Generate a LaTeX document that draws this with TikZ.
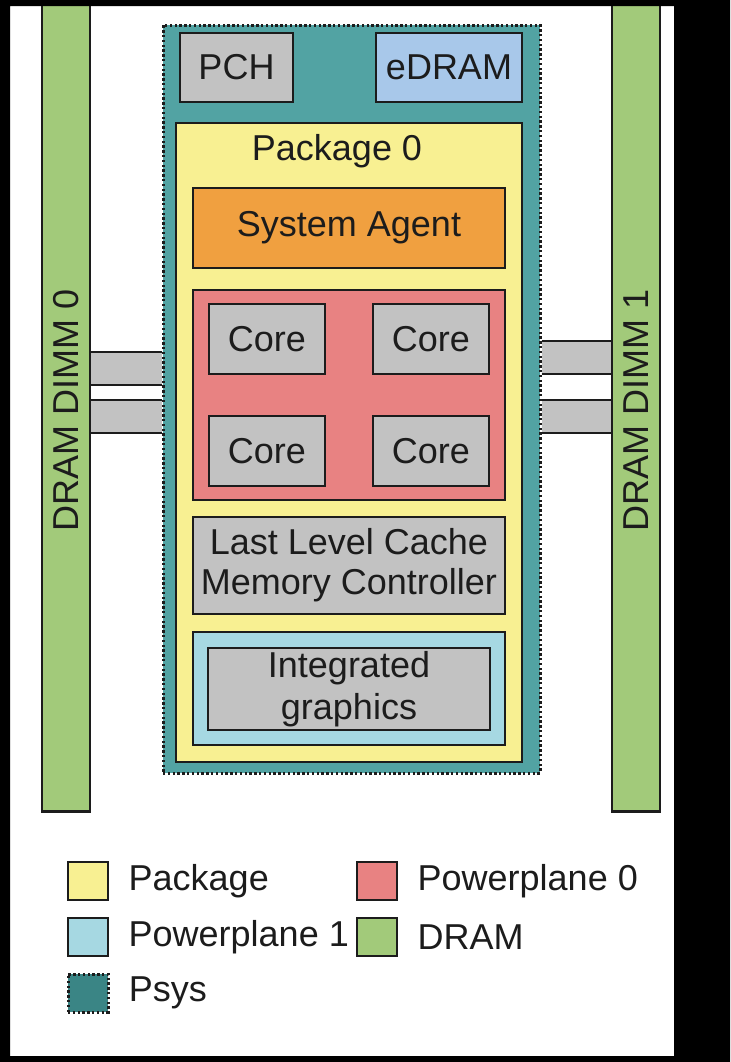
\documentclass[tikz,border=0pt]{standalone}
\usepackage{fontspec}
\setmainfont{Liberation Sans}
\usetikzlibrary{positioning}

\definecolor{psys}{HTML}{52A3A3}
\definecolor{psyskey}{HTML}{3A8585}
\definecolor{pkgyellow}{HTML}{F8F092}
\definecolor{agent}{HTML}{F0A040}
\definecolor{plane0}{HTML}{E88282}
\definecolor{plane1}{HTML}{A6D8E2}
\definecolor{edram}{HTML}{A8C8EA}
\definecolor{dram}{HTML}{A2CA7A}
\definecolor{unit}{HTML}{C2C2C2}
\definecolor{ink}{HTML}{1C1C1C}

\begin{document}
\begin{tikzpicture}[x=0.5pt,y=-0.5pt,
    box/.style={rectangle,draw=ink,line width=1.3pt,inner sep=0pt,
      font=\fontsize{18}{20}\selectfont,text=ink,align=center},
    dotbox/.style={box,line width=1.5pt,dash pattern=on 1.2pt off 1.2pt},
    key/.style={box,minimum width=20pt,minimum height=19pt},
    keytext/.style={inner sep=0pt,font=\fontsize{18}{20}\selectfont,text=ink,right=9.5pt of #1},
    txt/.style={inner sep=0pt,font=\fontsize{18}{20}\selectfont,text=ink}]
    \useasboundingbox (0,0) rectangle (730,1062);
    \fill[white] (0,0) rectangle (730,1062);

    % memory modules
    \node[box,fill=dram,minimum width=24pt,minimum height=405pt] (dimm0) at (66,406.5) {};
    \node[box,fill=dram,minimum width=24pt,minimum height=405pt] (dimm1) at (636,406.5) {};
    \node[txt,rotate=90] at (66,410) {DRAM DIMM 0};
    \node[txt,rotate=90] at (636,410) {DRAM DIMM 1};

    \node[dotbox,fill=psys,minimum width=188.5pt,minimum height=374pt] (psys) at (351.5,399) {};

    % memory channels
    \foreach \ya/\yb in {352/385,400/433} {
      \fill[unit] (dimm0.east |- 0,\ya) rectangle (psys.west |- 0,\yb);
      \draw[ink,line width=1.3pt] (dimm0.east |- 0,\ya) -- (psys.west |- 0,\ya);
      \draw[ink,line width=1.3pt] (dimm0.east |- 0,\yb) -- (psys.west |- 0,\yb);
    }
    \foreach \ya/\yb in {341/374,400/433} {
      \fill[unit] (psys.east |- 0,\ya) rectangle (dimm1.west |- 0,\yb);
      \draw[ink,line width=1.3pt] (psys.east |- 0,\ya) -- (dimm1.west |- 0,\ya);
      \draw[ink,line width=1.3pt] (psys.east |- 0,\yb) -- (dimm1.west |- 0,\yb);
    }
    \node[dotbox,fill=psys,minimum width=188.5pt,minimum height=374pt] at (psys.center) {};

    \node[box,fill=unit,minimum width=56.5pt,minimum height=34.5pt] (pch) at (236.5,67.5) {PCH};
    \node[box,fill=edram,minimum width=73pt,minimum height=34.5pt] (edram) at (449,67.5) {eDRAM};

    % package 0
    \node[box,fill=pkgyellow,minimum width=173pt,minimum height=319.5pt] (pkg) at (349,442.5) {};
    \node[txt] (pkglabel) at (337,151) {Package 0};
    \node[box,fill=agent,minimum width=156pt,minimum height=40pt] (agent) at (349,228) {System Agent};
    \node[box,fill=plane0,minimum width=156pt,minimum height=105pt] (pp0) at (349,395) {};
    \node[box,fill=unit,minimum width=58pt,minimum height=35pt] (core1) at (267,339) {Core};
    \node[box,fill=unit,minimum width=58pt,minimum height=35pt] (core2) at (431,339) {Core};
    \node[box,fill=unit,minimum width=58pt,minimum height=35pt] (core3) at (267,451) {Core};
    \node[box,fill=unit,minimum width=58pt,minimum height=35pt] (core4) at (431,451) {Core};
    \node[box,fill=unit,minimum width=156pt,minimum height=48.5pt] (llc) at (349,565.5) {Last Level Cache\\Memory Controller};
    \node[box,fill=plane1,minimum width=156pt,minimum height=56.5pt] (pp1) at (349,688.5) {};
    \node[box,fill=unit,minimum width=141pt,minimum height=41pt,
      font=\fontsize{18}{21}\selectfont] (gfx) at (349,689) {Integrated\\graphics};

    % legend
    \node[key,fill=pkgyellow] (keypkg) at (88,881) {};
    \node[key,fill=plane1] (keypp1) at (88,937) {};
    \node[key,dotbox,fill=psyskey] (keypsys) at (88,993) {};
    \node[key,fill=plane0] (keypp0) at (377,881) {};
    \node[key,fill=dram] (keydram) at (377,937) {};
    \node[keytext=keypkg] {Package};
    \node[keytext=keypp1] {Powerplane 1};
    \node[keytext=keypsys] {Psys};
    \node[keytext=keypp0] {Powerplane 0};
    \node[keytext=keydram] {DRAM};

    % screen frame
    \fill[black,even odd rule] (0,0) rectangle (730,1062) (10,6) rectangle (674,1056);
\end{tikzpicture}
\end{document}
